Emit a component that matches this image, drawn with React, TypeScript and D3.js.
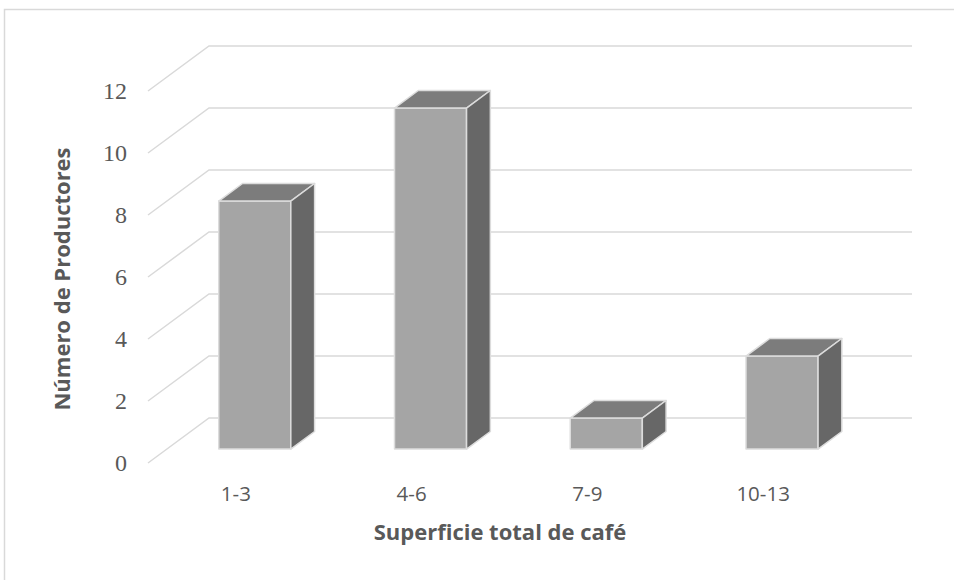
import React, { useEffect, useRef } from "react";
import * as d3 from "d3";

const categories = ["1-3", "4-6", "7-9", "10-13"];
const values = [8, 11, 1, 3];
const yTicks = [0, 2, 4, 6, 8, 10, 12];
const xTitle = "Superficie total de café";
const yTitle = "Número de Productores";

const App = () => {
  const svgRef = useRef<SVGSVGElement | null>(null);

  useEffect(() => {
    const svg = d3.select(svgRef.current);
    svg.selectAll("*").remove();

    const w = 954;
    const h = 580;
    svg.attr("width", w).attr("height", h).style("background", "#fff");

    // chart border (right/bottom fall outside the picture)
    svg
      .append("rect")
      .attr("x", 4.5)
      .attr("y", 9.5)
      .attr("width", w + 20)
      .attr("height", h + 20)
      .attr("fill", "none")
      .attr("stroke", "#d9d9d9")
      .attr("stroke-width", 1.5);

    // back wall coordinates + depth offset of front plane
    const backLeft = 209;
    const backRight = 912;
    const depthX = 61;
    const depthY = 45;

    const x = d3
      .scaleBand<string>()
      .domain(categories)
      .range([backLeft, backRight])
      .paddingInner(0.59)
      .paddingOuter(0.295);

    const y = d3.scaleLinear().domain([0, 12]).range([418, 46]);

    // z = 0 front, z = 1 back
    const proj = (px: number, v: number, z: number): [number, number] => [
      px - (1 - z) * depthX,
      y(v) + (1 - z) * depthY,
    ];

    // gridlines on left wall + back wall
    svg
      .append("g")
      .selectAll("path")
      .data(yTicks)
      .join("path")
      .attr("d", (d) => {
        const f = proj(backLeft, d, 0);
        return `M${f[0]},${f[1]}L${backLeft},${y(d)}L${backRight},${y(d)}`;
      })
      .attr("fill", "none")
      .attr("stroke", "#d9d9d9")
      .attr("stroke-width", 1.5);

    // y tick labels
    svg
      .append("g")
      .selectAll("text")
      .data(yTicks)
      .join("text")
      .attr("x", 127)
      .attr("y", (d) => proj(backLeft, d, 0)[1])
      .attr("dy", "0.35em")
      .attr("text-anchor", "end")
      .style("font-family", "'Liberation Serif', serif")
      .style("font-size", "24px")
      .attr("fill", "#595959")
      .text((d) => d);

    // 3D bars
    const zFront = 0.31;
    const zBack = 0.7;
    const bars = svg
      .append("g")
      .selectAll("g")
      .data(values.map((v, i) => ({ cat: categories[i], v })))
      .join("g");

    const poly = (pts: [number, number][]) => "M" + pts.map((p) => p.join(",")).join("L") + "Z";
    const edge = "#dcdcdc";

    // front face
    bars
      .append("path")
      .attr("d", (d) => {
        const x0 = x(d.cat)!;
        const x1 = x0 + x.bandwidth();
        return poly([
          proj(x0, 0, zFront),
          proj(x0, d.v, zFront),
          proj(x1, d.v, zFront),
          proj(x1, 0, zFront),
        ]);
      })
      .attr("fill", "#a5a5a5")
      .attr("stroke", edge)
      .attr("stroke-width", 1.5)
      .attr("stroke-linejoin", "round");

    // top face
    bars
      .append("path")
      .attr("d", (d) => {
        const x0 = x(d.cat)!;
        const x1 = x0 + x.bandwidth();
        return poly([
          proj(x0, d.v, zFront),
          proj(x0, d.v, zBack),
          proj(x1, d.v, zBack),
          proj(x1, d.v, zFront),
        ]);
      })
      .attr("fill", "#7c7c7c")
      .attr("stroke", edge)
      .attr("stroke-width", 1.5)
      .attr("stroke-linejoin", "round");

    // side face
    bars
      .append("path")
      .attr("d", (d) => {
        const x1 = x(d.cat)! + x.bandwidth();
        return poly([
          proj(x1, 0, zFront),
          proj(x1, d.v, zFront),
          proj(x1, d.v, zBack),
          proj(x1, 0, zBack),
        ]);
      })
      .attr("fill", "#676767")
      .attr("stroke", edge)
      .attr("stroke-width", 1.5)
      .attr("stroke-linejoin", "round");

    // category labels (front plane)
    svg
      .append("g")
      .selectAll("text")
      .data(categories)
      .join("text")
      .attr("x", (d) => x(d)! + x.bandwidth() / 2 - depthX)
      .attr("y", 501)
      .attr("text-anchor", "middle")
      .style("font-family", "'Open Sans', sans-serif")
      .style("font-size", "20.5px")
      .attr("fill", "#595959")
      .text((d) => d);

    // axis titles
    svg
      .append("text")
      .attr("x", 500)
      .attr("y", 540)
      .attr("text-anchor", "middle")
      .style("font-family", "'Open Sans', sans-serif")
      .style("font-size", "22px")
      .style("font-weight", "bold")
      .attr("fill", "#595959")
      .text(xTitle);

    svg
      .append("text")
      .attr("transform", "translate(70,279) rotate(-90)")
      .attr("text-anchor", "middle")
      .style("font-family", "'Open Sans', sans-serif")
      .style("font-size", "22px")
      .style("font-weight", "bold")
      .attr("fill", "#595959")
      .text(yTitle);
  }, []);

  return (
    <div>
      <svg ref={svgRef} style={{ position: "absolute", left: 0, top: 0, display: "block" }}></svg>
    </div>
  );
};

export default App;
